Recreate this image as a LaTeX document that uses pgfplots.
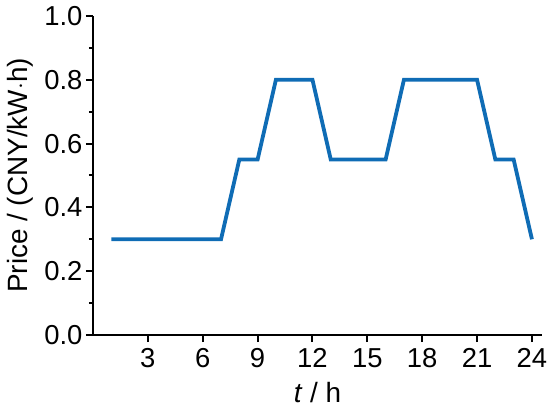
\documentclass[border=0pt]{standalone}
\usepackage{fontspec}
\setmainfont{Liberation Sans}
\usepackage{pgfplots}
\pgfplotsset{compat=1.18}
\definecolor{lineblue}{HTML}{0F6CB5}

\begin{document}
\begin{tikzpicture}
  \begin{axis}[
    scale only axis,
    width=449bp, height=319bp,
    xmin=0, xmax=24.55,
    ymin=0, ymax=1,
    axis lines=left,
    axis line style={line width=2bp, -},
    xtick={3,6,...,24},
    ytick={0,0.2,...,1.0},
    minor ytick={0.1,0.3,...,0.9},
    yticklabel style={/pgf/number format/.cd, fixed, fixed zerofill, precision=1},
    /pgf/number format/assume math mode=true,
    tick align=outside,
    tick style={line width=2bp, black},
    major tick length=7bp,
    minor tick length=4bp,
    tick label style={font=\fontsize{27.5}{31}\selectfont},
    xticklabel style={yshift=-3bp},
    label style={font=\fontsize{28}{32}\selectfont},
    xlabel={\textit{t} / h},
    ylabel={Price / (CNY/kW$\cdot$h)},
    xlabel style={at={(axis description cs:0.5,0)}, anchor=base, yshift=-67bp},
    ylabel style={at={(axis description cs:0,0.5)}, anchor=center, yshift=73bp},
  ]
  \addplot[lineblue, line width=3.8bp, line join=miter] coordinates {
    (1,0.3) (7,0.3) (8,0.55) (9,0.55) (10,0.8) (12,0.8) (13,0.55)
    (16,0.55) (17,0.8) (21,0.8) (22,0.55) (23,0.55) (24,0.3)
  };
  \coordinate (sw) at (rel axis cs:0,0);
  \coordinate (ne) at (rel axis cs:1,1);
  \end{axis}
  \pgfresetboundingbox
  \path ([shift={(-93bp,-73bp)}]sw) rectangle ([shift={(8bp,16bp)}]ne);
\end{tikzpicture}
\end{document}
